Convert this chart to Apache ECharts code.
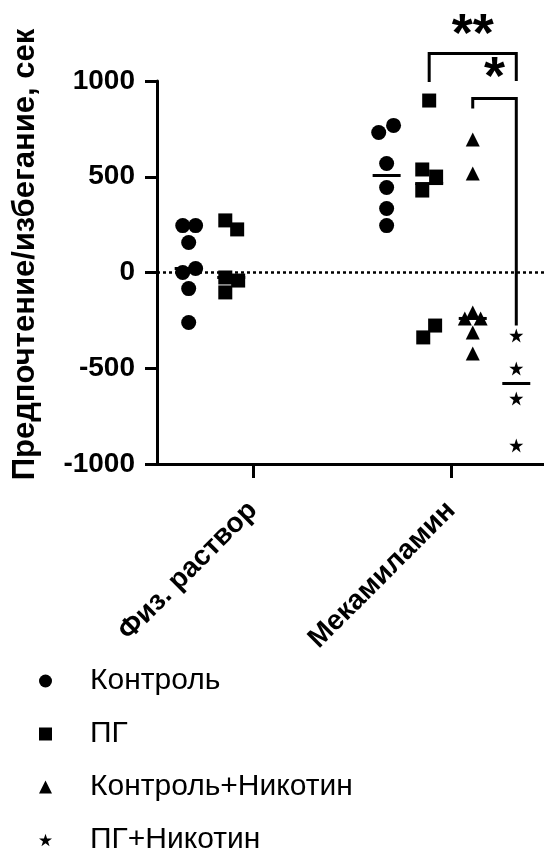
<!DOCTYPE html>
<html>
<head>
<meta charset="utf-8">
<script src="https://cdn.jsdelivr.net/npm/echarts@6/dist/echarts.min.js"></script>
<style>
html,body{margin:0;padding:0;background:#fff;}
#chart{width:544px;height:849px;}
</style>
</head>
<body>
<div id="chart"></div>
<script>
// ---- data ----
const categories = ['Физ. раствор', 'Мекамиламин'];
const groupNames = ['Контроль', 'ПГ', 'Контроль+Никотин', 'ПГ+Никотин'];
const yTickMin = -1000, yTickMax = 1000, yTickStep = 500;

// values per group: [Физ. раствор, Мекамиламин]
const controlPhys = [245, 245, 157, 21, 0, -84, -261];
const controlMek = [768, 731, 569, 444, 334, 245];
const pgPhys = [272, 225, -26, -42, -104];
const pgMek = [898, 538, 501, 428, -277, -339];
const ctrlNicPhys = [];
const ctrlNicMek = [694, 517, -209, -240, -240, -313, -423];
const pgNicPhys = [];
const pgNicMek = [-329, -501, -658, -903];

const significance = [
  { from: 1, to: 3, label: '**' },
  { from: 2, to: 3, label: '*' }
];

// ---- layout (not data) ----
const xMin = -0.485, xMax = 1.47;
const groupOffset = [-0.325, -0.11, 0.11, 0.33];
const jitter = {
  controlPhys: [-0.03, 0.035, 0, 0.035, -0.03, 0, 0],
  controlMek: [0.035, -0.04, 0, 0, 0, 0],
  pgPhys: [-0.03, 0.03, -0.03, 0.035, -0.03],
  pgMek: [0, -0.035, 0.035, -0.035, 0.03, -0.03],
  ctrlNicMek: [0, 0, 0, -0.04, 0.04, 0, 0],
  pgNicMek: [0, 0, 0, 0]
};
const bracketLayout = [
  { top: 1144, leftBottom: 995, rightBottom: 1000, textY: 1232, textDx: 0 },
  { top: 909, leftBottom: 856, rightBottom: -277, textY: 1008, textDx: 0 }
];

const groupsData = [
  [controlPhys, controlMek],
  [pgPhys, pgMek],
  [ctrlNicPhys, ctrlNicMek],
  [pgNicPhys, pgNicMek]
];
const groupJitter = [
  [jitter.controlPhys, jitter.controlMek],
  [jitter.pgPhys, jitter.pgMek],
  [[], jitter.ctrlNicMek],
  [[], jitter.pgNicMek]
];

function median(arr) {
  const s = arr.slice().sort((a, b) => a - b);
  const n = s.length;
  if (!n) return null;
  return n % 2 ? s[(n - 1) / 2] : (s[n / 2 - 1] + s[n / 2]) / 2;
}

const STAR = 'path://M50,0 L61.8,35.5 L99,35.5 L69,57.5 L80.5,93 L50,71 L19.5,93 L31,57.5 L1,35.5 L38.2,35.5 Z';
const symbols = ['circle', 'rect', 'triangle', STAR];
const sizes = [15, 14, 14, 14];

const FONT = '"Liberation Sans", Arial, sans-serif';

const series = [];
groupNames.forEach((name, g) => {
  const data = [];
  groupsData[g].forEach((vals, c) => {
    vals.forEach((v, i) => {
      data.push([c + groupOffset[g] + (groupJitter[g][c][i] || 0), v]);
    });
  });
  series.push({
    name: name,
    type: 'scatter',
    symbol: symbols[g],
    symbolSize: sizes[g],
    itemStyle: { color: '#000', opacity: 1 },
    data: data,
    z: 3
  });
});

// median lines
const medianData = [];
groupsData.forEach((pair, g) => {
  pair.forEach((vals, c) => {
    const m = median(vals);
    if (m !== null) medianData.push([c + groupOffset[g], m]);
  });
});
series.push({
  name: 'median',
  type: 'scatter',
  symbol: 'rect',
  symbolSize: [28, 3],
  itemStyle: { color: '#000', opacity: 1 },
  data: medianData,
  silent: true,
  z: 2
});

// zero dotted line
series.push({
  name: 'zero',
  type: 'line',
  data: [],
  markLine: {
    silent: true,
    symbol: 'none',
    label: { show: false },
    lineStyle: { color: '#000', type: [3, 3], width: 2.5 },
    data: [{ yAxis: 0 }]
  }
});

// significance brackets
series.push({
  name: 'sig',
  type: 'custom',
  clip: false,
  silent: true,
  data: significance.map((s, i) => [1 + groupOffset[s.from], 1 + groupOffset[s.to], i]),
  renderItem: function (params, api) {
    const i = api.value(2);
    const s = significance[i];
    const L = bracketLayout[i];
    const x1 = api.value(0), x2 = api.value(1);
    const p1 = api.coord([x1, L.leftBottom]);
    const p2 = api.coord([x1, L.top]);
    const p3 = api.coord([x2, L.top]);
    const p4 = api.coord([x2, L.rightBottom]);
    const t = api.coord([(x1 + x2) / 2, L.textY]);
    return {
      type: 'group',
      children: [
        { type: 'polyline', shape: { points: [p1, p2, p3, p4] },
          style: { stroke: '#000', lineWidth: 3, fill: null } },
        { type: 'text', style: { text: s.label, x: t[0] + L.textDx, y: t[1],
          align: 'center', verticalAlign: 'middle',
          font: 'bold 54px ' + FONT, fill: '#000' } }
      ]
    };
  }
});

const legendBase = {
  orient: 'vertical',
  left: 39,
  padding: 0,
  itemWidth: 13,
  itemHeight: 13,
  itemGap: 23,
  textStyle: { fontSize: 30, color: '#000', fontFamily: FONT, padding: [0, 0, 0, 33] },
  selectedMode: false
};

const chart = echarts.init(document.getElementById('chart'), null, { renderer: 'canvas' });
chart.setOption({
  animation: false,
  backgroundColor: '#fff',
  grid: { left: 157, right: 0, top: 81, bottom: 385, containLabel: false },
  legend: [
    Object.assign({}, legendBase, { data: groupNames.slice(0, 3), top: 666 }),
    Object.assign({}, legendBase, { data: groupNames.slice(3), top: 825 })
  ],
  xAxis: {
    type: 'value',
    min: xMin,
    max: xMax,
    axisLine: { onZero: false, lineStyle: { color: '#000', width: 3 } },
    axisTick: { show: true, customValues: [0, 1], length: 14, lineStyle: { color: '#000', width: 3 } },
    axisLabel: { customValues: [0, 1], rotate: 45, fontSize: 28, fontWeight: 'bold', color: '#000', margin: 42, fontFamily: FONT,
      formatter: function (v) { return categories[Math.round(v)]; } },
    splitLine: { show: false }
  },
  yAxis: {
    type: 'value',
    min: yTickMin,
    max: yTickMax,
    interval: yTickStep,
    name: 'Предпочтение/избегание, сек',
    nameLocation: 'middle',
    nameGap: 116,
    nameTextStyle: { fontSize: 31, fontWeight: 'bold', color: '#000', fontFamily: FONT, padding: [0, 0, 0, 36] },
    axisLine: { show: true, onZero: false, lineStyle: { color: '#000', width: 3 } },
    axisTick: { show: true, length: 12, lineStyle: { color: '#000', width: 3 } },
    axisLabel: { fontSize: 28, fontWeight: 'bold', color: '#000', margin: 22, fontFamily: FONT,
      formatter: function (v) { return String(v); } },
    splitLine: { show: false }
  },
  series: series
});
</script>
</body>
</html>
